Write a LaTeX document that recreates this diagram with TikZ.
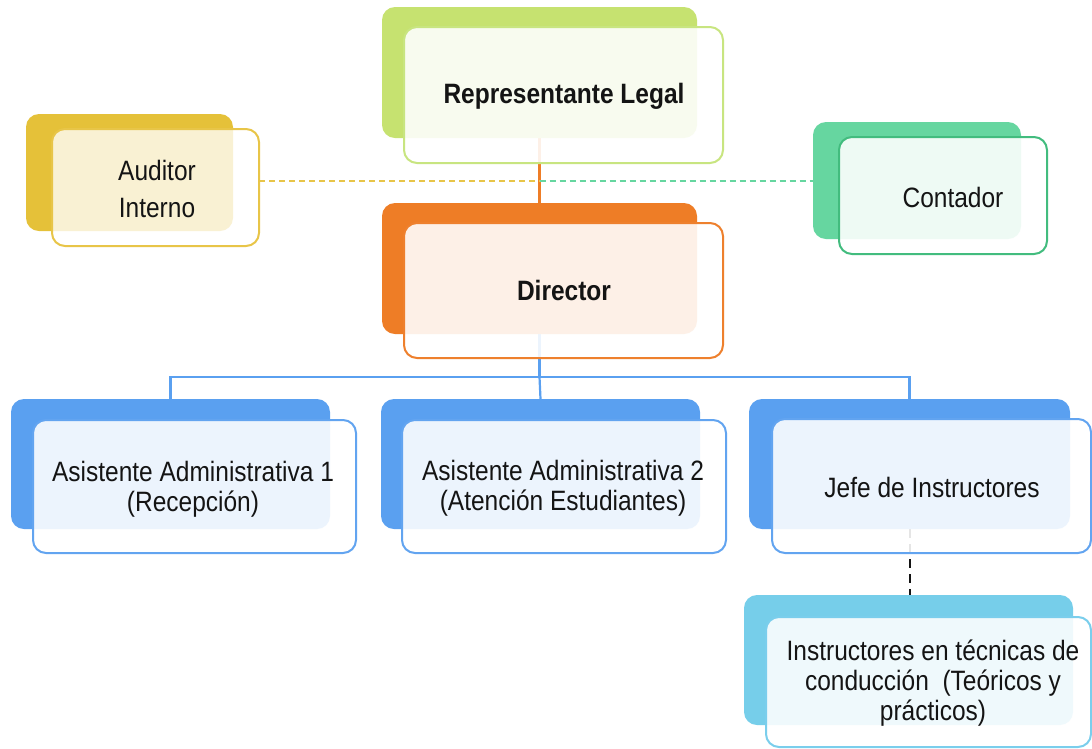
\documentclass[tikz,border=0pt]{standalone}
\usepackage{fontspec}
\setmainfont{Liberation Sans}[FakeStretch=0.875]
\pgfdeclarelayer{paper}
\pgfdeclarelayer{links}
\pgfsetlayers{paper,links,main}
\definecolor{legalback}{RGB}{198,226,112}
\definecolor{legalline}{RGB}{200,229,128}
\definecolor{dirback}{RGB}{238,125,38}
\definecolor{dirline}{RGB}{238,128,45}
\definecolor{audback}{RGB}{229,193,57}
\definecolor{audline}{RGB}{232,197,72}
\definecolor{contback}{RGB}{102,214,160}
\definecolor{contline}{RGB}{66,188,126}
\definecolor{staffback}{RGB}{90,160,240}
\definecolor{staffline}{RGB}{98,164,240}
\definecolor{instback}{RGB}{118,206,234}
\definecolor{instline}{RGB}{122,206,236}
\definecolor{inkcol}{RGB}{20,20,20}
\begin{document}
\begin{tikzpicture}[x=1pt,y=-1pt,
  backbox/.style={draw=none, rounded corners=13pt, inner sep=0pt, outer sep=0pt},
  frontbox/.style={rounded corners=13pt, line width=2pt, fill=white, fill opacity=0.89,
                   inner sep=0pt, outer sep=0pt},
  caption/.style={font=\fontsize{28}{30}\selectfont, text=inkcol, inner sep=0pt, align=center},
  boldcaption/.style={caption, font=\fontsize{28}{30}\selectfont\bfseries},
  solidlink/.style={line width=2.2pt},
  dashlink/.style={line width=1.5pt, dash pattern=on 6pt off 4pt},
]
\useasboundingbox (0,0) rectangle (1092,748);
\begin{pgfonlayer}{paper}
  \fill[white] (0,0) rectangle (1092,748);
\end{pgfonlayer}

% rear colour plates
\node[backbox, fill=legalback, minimum width=315pt, minimum height=131pt] (rlb) at (539.5,72.5) {};
\node[backbox, fill=dirback,   minimum width=315pt, minimum height=131pt] (dirb) at (539.5,268.5) {};
\node[backbox, fill=audback,   minimum width=207pt, minimum height=117pt] (audb) at (129.5,172.5) {};
\node[backbox, fill=contback,  minimum width=208pt, minimum height=117pt] (conb) at (917,180.5) {};
\node[backbox, fill=staffback, minimum width=319pt, minimum height=130pt] (a1b) at (170.5,464) {};
\node[backbox, fill=staffback, minimum width=319pt, minimum height=130pt] (a2b) at (540.5,464) {};
\node[backbox, fill=staffback, minimum width=321pt, minimum height=130pt] (jefb) at (909.5,464) {};
\node[backbox, fill=instback,  minimum width=329pt, minimum height=130pt] (insb) at (908.5,660) {};

% front outlined cards
\node[frontbox, draw=legalline, minimum width=319pt, minimum height=136pt] (rlf) at (563.5,95) {};
\node[frontbox, draw=dirline,   minimum width=319pt, minimum height=135pt] (dirf) at (563.5,290.5) {};
\node[frontbox, draw=audline, fill opacity=0.78, minimum width=207pt, minimum height=117pt] (audf) at (155.5,187.5) {};
\node[frontbox, draw=contline,  minimum width=208pt, minimum height=117pt] (conf) at (943,195.5) {};
\node[frontbox, draw=staffline, minimum width=323pt, minimum height=133pt] (a1f) at (194.5,486.5) {};
\node[frontbox, draw=staffline, minimum width=324pt, minimum height=133pt] (a2f) at (564,486.5) {};
\node[frontbox, draw=staffline, minimum width=319pt, minimum height=134pt] (jeff) at (931.5,486) {};
\node[frontbox, draw=instline,  minimum width=325pt, minimum height=130pt] (insf) at (928.5,682) {};

% titles
\node[boldcaption, anchor=base] (rlt) at (564,103) {Representante Legal};
\node[boldcaption, anchor=base] (dirt) at (564,300) {Director};
\node[caption, font=\fontsize{28}{37}\selectfont] (audt) at (157,188.7) {Auditor\\Interno};
\node[caption, anchor=base] (cont) at (953,207) {Contador};
\node[caption] (a1t) at (193,489) {Asistente Administrativa 1\\(Recepción)};
\node[caption] (a2t) at (563,488) {Asistente Administrativa 2\\(Atención Estudiantes)};
\node[caption, anchor=base] (jeft) at (932,497) {Jefe de Instructores};
\node[caption] (inst) at (933,683) {Instructores en técnicas de\\conducción~~(Teóricos y\\prácticos)};

% reporting lines
\begin{pgfonlayer}{links}
  \path (rlb.south) -- (dirb.north) coordinate[pos=0.66] (hub);
  \path (dirb.south) ++(0,43) coordinate (bus);
  \draw[solidlink, draw=dirback] (rlb.south) -- (dirb.north);
  \draw[dashlink, draw=audline] (audf.east |- hub) -- (hub);
  \draw[dashlink, draw=contback] (hub) -- (conb.west |- hub);
  \draw[solidlink, draw=staffback] (dirb.south) -- (bus);
  \draw[solidlink, draw=staffback] (a1b.north) |- (bus) -| (jefb.north);
  \draw[solidlink, draw=staffback] (bus) -- (a2b.north);
  \draw[line width=2pt, draw=inkcol, dash pattern=on 9pt off 6pt] (jefb.south) -- (jefb.south |- insb.north);
\end{pgfonlayer}
\end{tikzpicture}
\end{document}
